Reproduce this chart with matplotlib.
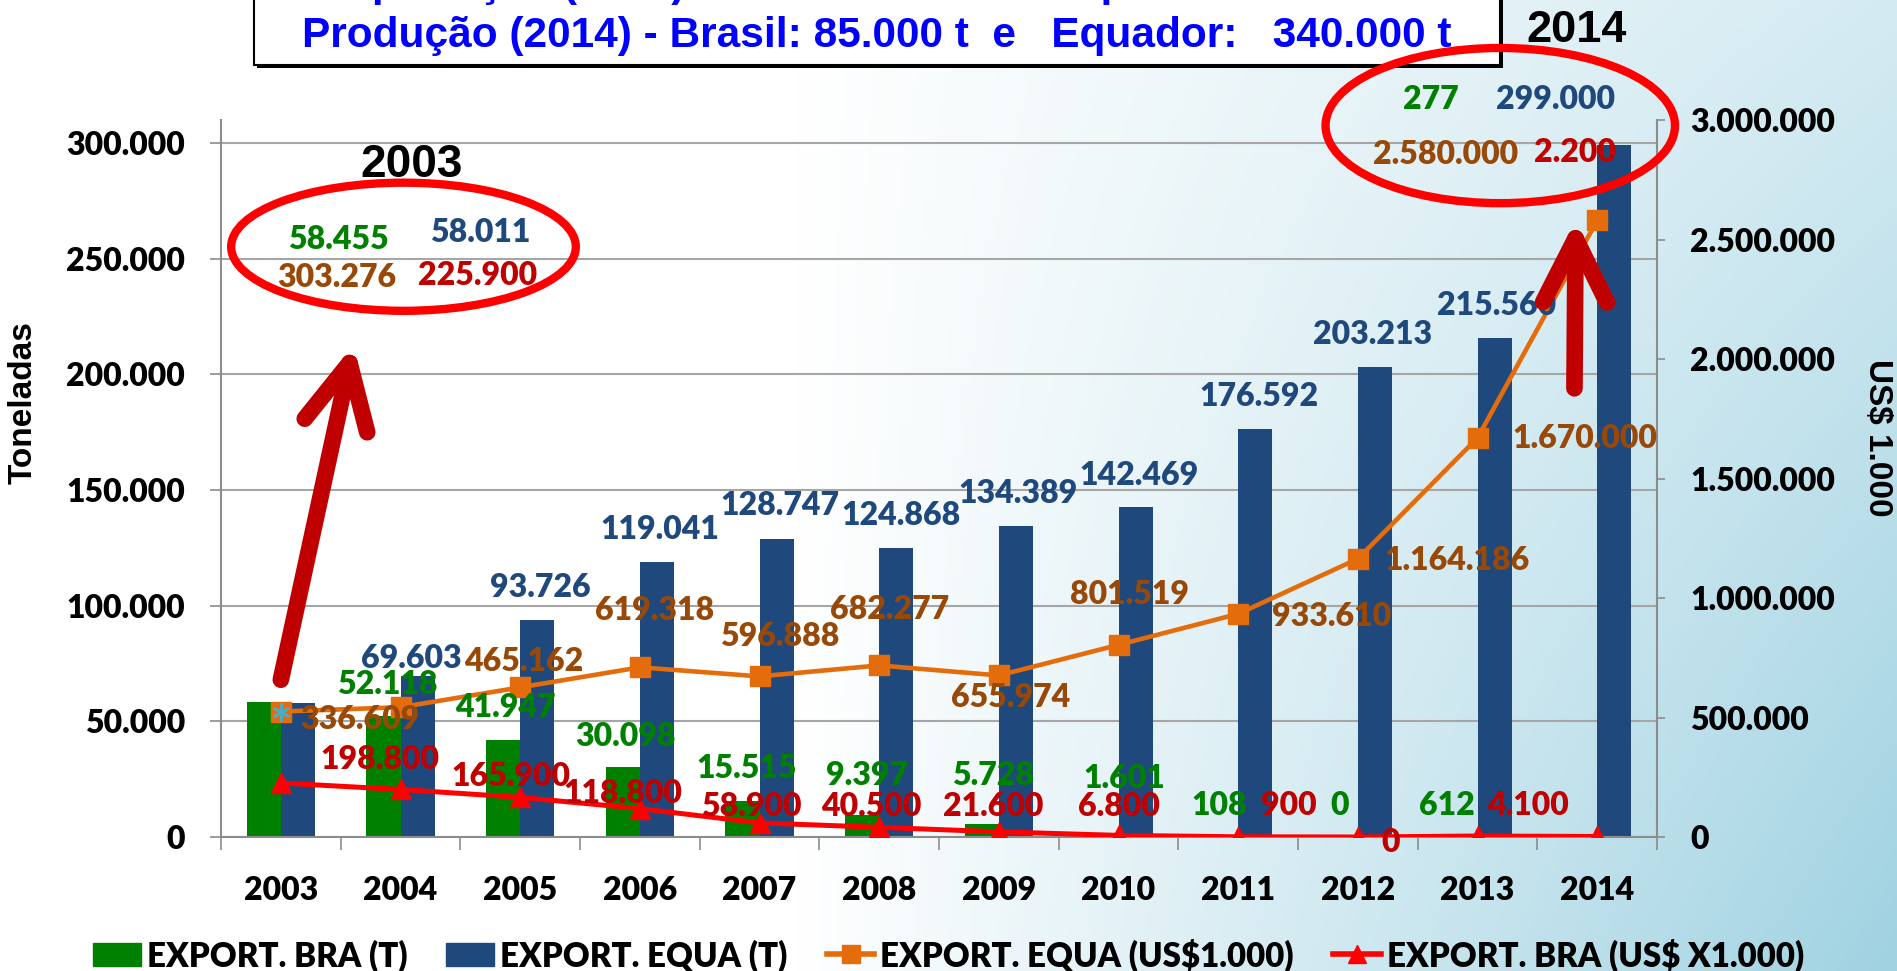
import numpy as np
import matplotlib
matplotlib.use('Agg')
import matplotlib.pyplot as plt
from matplotlib.patches import Ellipse, Rectangle, Patch, FancyArrowPatch
from matplotlib.lines import Line2D
from matplotlib.ticker import FuncFormatter

# dados
anos = ['2003', '2004', '2005', '2006', '2007', '2008', '2009', '2010', '2011', '2012', '2013', '2014']
bra_t = [58455, 52118, 41947, 30098, 15515, 9397, 5728, 1601, 108, 0, 612, 277]
equa_t = [58011, 69603, 93726, 119041, 128747, 124868, 134389, 142469, 176592, 203213, 215560, 299000]
equa_usd = [525000, 543000, 626000, 710000, 672000, 718000, 676000, 804000, 933610, 1164186, 1670000, 2580000]
bra_usd = [225900, 198800, 165900, 118800, 58900, 40500, 21600, 6800, 900, 0, 4100, 2200]

# rótulos de dados (texto como aparece no gráfico)
bra_t_txt = ['58.455', '52.118', '41.947', '30.098', '15.515', '9.397', '5.728', '1.601', '108', '0', '612', '277']
equa_t_txt = ['58.011', '69.603', '93.726', '119.041', '128.747', '124.868', '134.389', '142.469',
              '176.592', '203.213', '215.560', '299.000']
equa_usd_txt = ['303.276', '336.609', '465.162', '619.318', '596.888', '682.277', '655.974', '801.519',
                '933.610', '1.164.186', '1.670.000', '2.580.000']
bra_usd_txt = ['225.900', '198.800', '165.900', '118.800', '58.900', '40.500', '21.600', '6.800',
               '900', '0', '4.100', '2.200']

# posições dos rótulos (x em categorias, y em toneladas)
bra_t_pos = [(0.48, 258300), (0.89, 65800), (1.88, 55800), (2.88, 43300), (3.89, 29800), (4.90, 26800),
             (5.95, 26800), (7.05, 25500), (7.84, 13800), (8.85, 13800), (9.74, 13800), (9.61, 318800)]
equa_t_pos = [(1.67, 261300), (1.09, 77000), (2.17, 107700), (3.17, 132800), (4.17, 143200), (5.18, 138900),
              (6.16, 148400), (7.17, 156200), (8.17, 190300), (9.12, 217200), (10.16, 229700), (10.65, 318800)]
equa_usd_pos = [(0.47, 241800), (0.66, 51000), (2.03, 75700), (3.12, 97800), (4.17, 86500), (5.09, 98200),
                (6.10, 60100), (7.09, 104700), (8.78, 95200), (9.83, 119400), (10.90, 172200), (9.73, 295000)]
bra_usd_pos = [(1.64, 242700), (0.83, 33300), (1.92, 26000), (2.86, 19000), (3.93, 13000), (4.93, 13000),
               (5.95, 13000), (7.00, 13000), (8.42, 13800), (9.27, -2200), (10.42, 13800), (10.81, 295900)]

verde = '#008000'
azul = '#1F497D'
laranja = '#E46C0A'
vermelho = '#FF0000'
txt_laranja = '#984807'
txt_vermelho = '#C00000'
cinza = '#8C8C8C'

plt.rcParams['font.family'] = ['Lato', 'DejaVu Sans']
plt.rcParams['font.weight'] = 'heavy'

fig = plt.figure(figsize=(18.97, 9.71), dpi=100)

# fundo em degradê
bg = fig.add_axes([0, 0, 1, 1], zorder=-1)
xs = np.linspace(0, 1, 400)
ys = np.linspace(0, 1, 200)
X, Y = np.meshgrid(xs, ys)
t = np.clip((X - 0.42) / 0.58, 0, 1) * (0.45 + 0.55 * Y)
azul_claro = np.array([160, 210, 226]) / 255
img = (1 - t)[..., None] * np.ones(3) + t[..., None] * azul_claro
bg.imshow(img, extent=[0, 1, 0, 1], aspect='auto', origin='upper')
bg.axis('off')

ax = fig.add_axes([0.1165, 0.1380, 0.7570, 0.7384])
ax.patch.set_alpha(0)
ax2 = ax.twinx()
ax2.patch.set_alpha(0)

x = np.arange(len(anos))
w = 0.285
ax.bar(x - w / 2, bra_t, w, color=verde, label='EXPORT. BRA (T)')
ax.bar(x + w / 2, equa_t, w, color=azul, label='EXPORT. EQUA (T)')

ax2.plot(x, equa_usd, color=laranja, lw=3.3, marker='s', ms=14, label='EXPORT. EQUA (US$1.000)')
ax2.plot(x[:1], equa_usd[:1], ls='none', marker=(6, 2, 0), ms=13, mew=2, color='#4BACC6')
ax2.plot(x, bra_usd, color=vermelho, lw=3.6, marker='^', ms=14, label='EXPORT. BRA (US$ X1.000)')

fmt = FuncFormatter(lambda v, p: f'{int(v):,}'.replace(',', '.'))
ax.set_xlim(-0.5, len(anos) - 0.5)
ax.set_ylim(0, 310000)
ax.set_yticks(np.arange(0, 300001, 50000))
ax.yaxis.set_major_formatter(fmt)
ax2.set_ylim(0, 3000000)
ax2.set_yticks(np.arange(0, 3000001, 500000))
ax2.yaxis.set_major_formatter(fmt)

ax.set_xticks(x)
ax.set_xticklabels(anos)
ax.set_xticks(np.arange(-0.5, len(anos), 1), minor=True)
ax.tick_params(axis='x', which='major', length=0, pad=28, labelsize=23)
ax.tick_params(axis='x', which='minor', length=9, width=1.2, color=cinza)
ax.tick_params(axis='y', length=8, width=1.2, color=cinza, pad=18, labelsize=23)
ax2.tick_params(axis='y', length=6, width=1.2, color=cinza, pad=18, labelsize=23)

ax.yaxis.grid(True, color='#A6A6A6', lw=1.5)
ax.set_axisbelow(True)
for s in ['top', 'right']:
    ax.spines[s].set_visible(False)
for s in ['top', 'left', 'bottom']:
    ax2.spines[s].set_visible(False)
for s in ['left', 'bottom']:
    ax.spines[s].set_color(cinza)
    ax.spines[s].set_linewidth(1.5)
ax2.spines['right'].set_color(cinza)
ax2.spines['right'].set_linewidth(1.5)

fig.text(23 / 1897, 1 - 403 / 971, 'Toneladas', rotation=90, ha='center', va='center',
         fontsize=24, family='Liberation Sans', fontweight='bold')
fig.text(1877 / 1897, 1 - 438 / 971, 'US$ 1.000', rotation=270, ha='center', va='center',
         fontsize=24, family='Liberation Sans', fontweight='bold')

# rótulos
for txts, pos, cor in [(bra_t_txt, bra_t_pos, verde), (equa_t_txt, equa_t_pos, azul),
                       (equa_usd_txt, equa_usd_pos, txt_laranja), (bra_usd_txt, bra_usd_pos, txt_vermelho)]:
    for s, (px, py) in zip(txts, pos):
        fig.text(px, py, s, transform=ax.transData, ha='center', va='center',
                 fontsize=23, color=cor, zorder=5)

# elipses e setas
fig.add_artist(Ellipse((1.025, 255200), 2.88, 55400, transform=ax.transData,
                       fill=False, ec='#FF0000', lw=6, zorder=6))
fig.add_artist(Ellipse((10.19, 307600), 2.92, 67100, transform=ax.transData,
                       fill=False, ec='#FF0000', lw=6, zorder=6))
for tail, tip in [((0.0, 68000), (0.607, 212800)), ((10.81, 194000), (10.82, 266900))]:
    fig.add_artist(FancyArrowPatch(tail, tip, transform=ax.transData,
                                   arrowstyle='->,head_length=4.6,head_width=2.3', mutation_scale=10,
                                   lw=12, color='#C00000', capstyle='round', shrinkA=0, shrinkB=0,
                                   zorder=6))

fig.text(412 / 1897, 1 - 165 / 971, '2003', ha='center', va='center', fontsize=33,
         family='Liberation Sans', fontweight='bold', color='black')
fig.text(1577 / 1897, 1 - 30 / 971, '2014', ha='center', va='center', fontsize=32.5,
         family='Liberation Sans', fontweight='bold', color='black')

# caixa do título
x0, x1 = 254 / 1897, 1500 / 1897
yb = 1 - 65 / 971
dx, dy = 3 / 1897, 3 / 971
fig.add_artist(Rectangle((x0 + dx, yb - dy), x1 - x0, 0.2, transform=fig.transFigure,
                         facecolor='black', edgecolor='none', zorder=2))
fig.add_artist(Rectangle((x0, yb), x1 - x0, 0.2, transform=fig.transFigure,
                         facecolor='white', edgecolor='black', lw=1.5, zorder=2))
fig.text(877 / 1897, 1 + 4 / 971, 'Exportação (2014) - Brasil: 277 t   e   Equador: 299.000 t',
         ha='center', va='baseline', fontsize=30.5, family='Liberation Sans', fontweight='bold',
         color='#0000FF', zorder=3)
fig.text(877 / 1897, 1 - 47 / 971, 'Produção (2014) - Brasil: 85.000 t  e   Equador:   340.000 t',
         ha='center', va='baseline', fontsize=30.5, family='Liberation Sans', fontweight='bold',
         color='#0000FF', zorder=3)

handles = [Patch(color=verde), Patch(color=azul),
           Line2D([], [], color=laranja, lw=4, marker='s', ms=13),
           Line2D([], [], color=vermelho, lw=4, marker='^', ms=13)]
labels = ['EXPORT. BRA (T)', 'EXPORT. EQUA (T)', 'EXPORT. EQUA (US$1.000)', 'EXPORT. BRA (US$ X1.000)']
fig.legend(handles, labels, loc='center', bbox_to_anchor=(0.5, 0.0165), ncol=4, frameon=False,
           fontsize=23.8, handlelength=1.45, handleheight=0.7, handletextpad=0.18,
           columnspacing=1.18, borderaxespad=0)

fig.savefig('out.png', dpi=100)
